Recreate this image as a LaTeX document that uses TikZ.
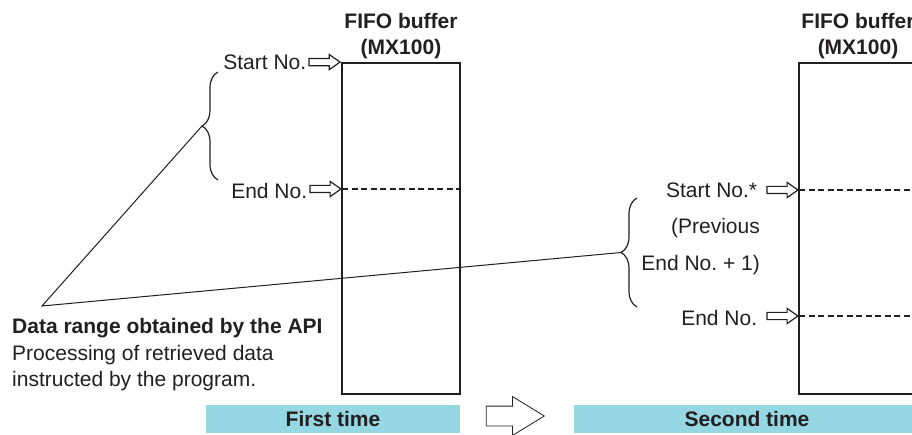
\documentclass[tikz,border=0pt]{standalone}
\usepackage{fontspec}
\setmainfont{Liberation Sans}
\usetikzlibrary{positioning,shapes.arrows,decorations.pathreplacing}
\definecolor{barblue}{HTML}{96D7E4}
\definecolor{ink}{HTML}{231F20}
\frenchspacing

\begin{document}
\begin{tikzpicture}[x=1pt, y=-1pt,
    every node/.style={inner sep=0pt, text=ink, font=\fontsize{21}{26.7}\selectfont},
    buffer/.style={draw=ink, line width=1.8pt, minimum width=118pt, minimum height=331pt},
    title/.style={font=\fontsize{21}{26}\selectfont\bfseries, align=center},
    lbl/.style={anchor=east},
    pointer/.style={single arrow, draw=ink, fill=white, line width=1.2pt, minimum height=31pt, inner sep=3pt,
        single arrow head extend=4pt, single arrow tip angle=70, anchor=tip},
    bigarrow/.style={single arrow, draw=ink, fill=white, line width=0.8pt, minimum height=58pt, inner sep=9.5pt,
        single arrow head extend=9.5pt, single arrow tip angle=63, anchor=tip},
    bar/.style={fill=barblue, minimum height=28pt, font=\fontsize{21}{26}\selectfont\bfseries},
    fence/.style={draw=ink, decorate, decoration={brace, amplitude=16pt}, line width=1.2pt},
    level/.style={draw=ink, dash pattern=on 6pt off 3.5pt, line width=1.4pt},
    leader/.style={draw=ink, line width=1pt}
]
    \useasboundingbox (0,0) rectangle (912,435);
    \clip (0,0) rectangle (912,435);

    % First time
    \node[buffer] (buf1) at (401,228.5) {};
    \node[title, above=3.5pt of buf1] (title1) {FIFO buffer\\(MX100)};
    \node[pointer] (start1) at (buf1.north west) {};
    \node[pointer] (end1) at (342,189) {};
    \draw[level] (end1.tip) -- (buf1.east |- end1.tip);
    \node[lbl] (startlbl1) at ([xshift=-2pt]start1.tail) {Start No.};
    \node[lbl] (endlbl1) at ([xshift=-2pt, yshift=-2pt]end1.tail) {End No.};
    \draw[fence] (218,180) -- (218,72);
    \coordinate (tip1) at (202,126);

    % Second time
    \node[buffer] (buf2) at (858,228.5) {};
    \node[title, above=3.5pt of buf2] (title2) {FIFO buffer\\(MX100)};
    \node[pointer] (start2) at (799,190) {};
    \node[pointer] (end2) at (799,316) {};
    \draw[level] (start2.tip) -- (buf2.east |- start2.tip);
    \draw[level] (end2.tip) -- (buf2.east |- end2.tip);
    \node[lbl] (startlbl2) at ([xshift=-9pt]start2.tail) {Start No.*};
    \node[anchor=base east] (prev) at (760,234) {(Previous};
    \node[anchor=base east] (prevend) at (760,270.7) {End No. + 1)};
    \node[lbl] (endlbl2) at ([xshift=-9pt, yshift=-2pt]end2.tail) {End No.};
    \draw[fence] (637,307) -- (637,198);
    \coordinate (tip2) at (621,252.5);

    % Range obtained by the API
    \coordinate (apex) at (42,306);
    \draw[leader] (tip1) -- (apex) -- (tip2);
    \node[anchor=north west, align=left] (note) at (12,318)
        {\textbf{Data range obtained by the API}\\Processing of retrieved data\\instructed by the program.};

    % Time bars
    \node[bar, minimum width=254pt] (first) at (333,419) {First time};
    \node[bar, minimum width=346pt] (second) at (747,419) {Second time};
    \node[bigarrow] (next) at (545,416) {};
\end{tikzpicture}
\end{document}
